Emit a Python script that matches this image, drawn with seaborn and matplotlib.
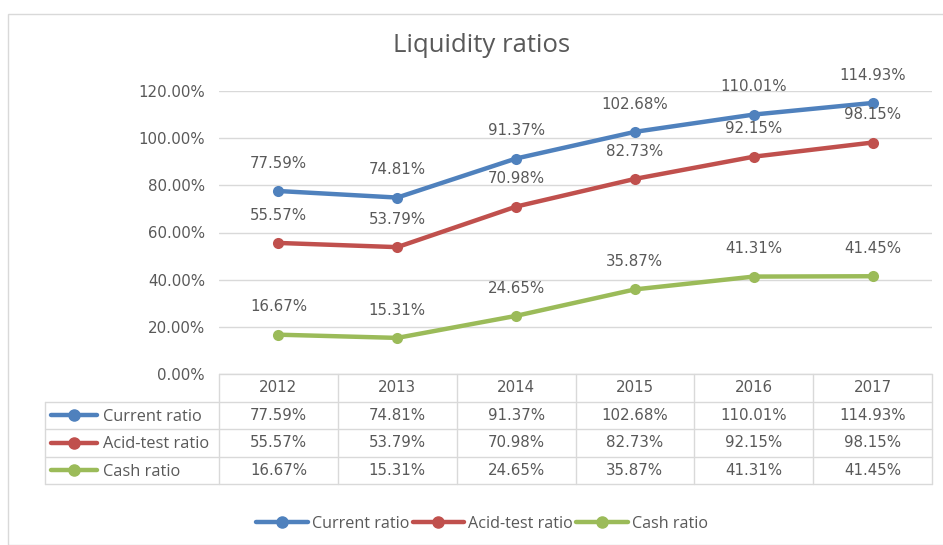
import seaborn as sns
from matplotlib import pyplot as plt
from matplotlib.patches import Rectangle
from matplotlib.lines import Line2D
import pandas as pd

sns.set_style("white")
plt.rcParams["font.family"] = ["DejaVu Sans"]

years = [2012, 2013, 2014, 2015, 2016, 2017]
series = ["Current ratio", "Acid-test ratio", "Cash ratio"]
current = [77.59, 74.81, 91.37, 102.68, 110.01, 114.93]
acid_test = [55.57, 53.79, 70.98, 82.73, 92.15, 98.15]
cash = [16.67, 15.31, 24.65, 35.87, 41.31, 41.45]
colors = ["#4F81BD", "#C0504D", "#9BBB59"]
yticks = [0, 20, 40, 60, 80, 100, 120]

values = [current, acid_test, cash]
df = pd.DataFrame({
    "year": years * 3,
    "ratio": sum(values, []),
    "series": [s for s in series for _ in years],
})

W, H = 943, 545
txt = "#595959"
grid = "#D9D9D9"
lbl_font = ["Open Sans", "DejaVu Sans"]

fig = plt.figure(figsize=(W / 100, H / 100), dpi=100)
# chart area border
fig.patches.append(Rectangle((8 / W, 0), 1, 1 - 14 / H, transform=fig.transFigure,
                             fill=False, edgecolor=grid, lw=1))

left, right, top, bot = 219, 932, 91, 374
ax = fig.add_axes([left / W, 1 - bot / H, (right - left) / W, (bot - top) / H])
sns.lineplot(data=df, x="year", y="ratio", hue="series", palette=colors,
             marker="o", markersize=8, markeredgewidth=0, linewidth=3.2,
             ax=ax, legend=False)
ax.set_xlim(2011.5, 2017.5)
ax.set_ylim(0, 120)
ax.set_yticks(yticks)
ax.set_yticklabels([f"{v:.2f}%" for v in yticks], color=txt, fontsize=10.8)
ax.set_xticks([])
ax.set_xlabel("")
ax.set_ylabel("")
ax.tick_params(axis="y", length=0, pad=10)
ax.grid(axis="y", color=grid, lw=1)
ax.set_axisbelow(True)
for s in ax.spines.values():
    s.set_visible(False)

for vals in values:
    for x, v in zip(years, vals):
        ax.annotate(f"{v:.2f}%", (x, v), xytext=(0, 20), textcoords="offset points",
                    ha="center", va="center", fontsize=10.8, color=txt,
                    annotation_clip=False)

fig.text(482 / W, 1 - 46 / H, "Liquidity ratios", ha="center", va="center",
         fontsize=18.5, color=txt, family=lbl_font)

# data table below the plot
tleft, tbot = 45, 484
colw = (right - left) / len(years)
xl = 2011.5 - (left - tleft) / colw
tax = fig.add_axes([tleft / W, 1 - tbot / H, (right - tleft) / W, (tbot - bot) / H])
tax.set_xlim(xl, 2017.5)
tax.set_ylim(4, 0)
tax.axis("off")
lk = dict(color=grid, lw=1, clip_on=False)
tax.plot([2011.5, 2017.5], [0, 0], **lk)
for r in range(1, 5):
    tax.plot([xl, 2017.5], [r, r], **lk)
tax.plot([xl, xl], [1, 4], **lk)
for x in [y - 0.5 for y in years] + [years[-1] + 0.5]:
    tax.plot([x, x], [0, 4], **lk)
for x in years:
    tax.text(x, 0.5, str(x), ha="center", va="center", fontsize=10.8, color=txt)
for r, (name, vals, c) in enumerate(zip(series, values, colors), start=1):
    tax.plot([xl + 6 / colw, xl + 52 / colw], [r + 0.5, r + 0.5], color=c, lw=3.2,
             solid_capstyle="round", clip_on=False)
    tax.plot([xl + 29 / colw], [r + 0.5], "o", color=c, markersize=8, clip_on=False)
    tax.text(xl + 58 / colw, r + 0.55, name, ha="left", va="center", fontsize=11.8,
             color=txt, family=lbl_font)
    for x, v in zip(years, vals):
        tax.text(x, r + 0.5, f"{v:.2f}%", ha="center", va="center", fontsize=10.8,
                 color=txt)

handles = [Line2D([], [], color=c, lw=3.2, marker="o", markersize=8) for c in colors]
leg = fig.legend(handles, series, loc="center", bbox_to_anchor=(482 / W, 1 - 524 / H),
                 ncol=3, frameon=False, handlelength=3.2, handletextpad=0.25,
                 columnspacing=0.2, prop={"family": lbl_font, "size": 11.6})
for t in leg.get_texts():
    t.set_color(txt)

fig.savefig("out.png", dpi=100)
